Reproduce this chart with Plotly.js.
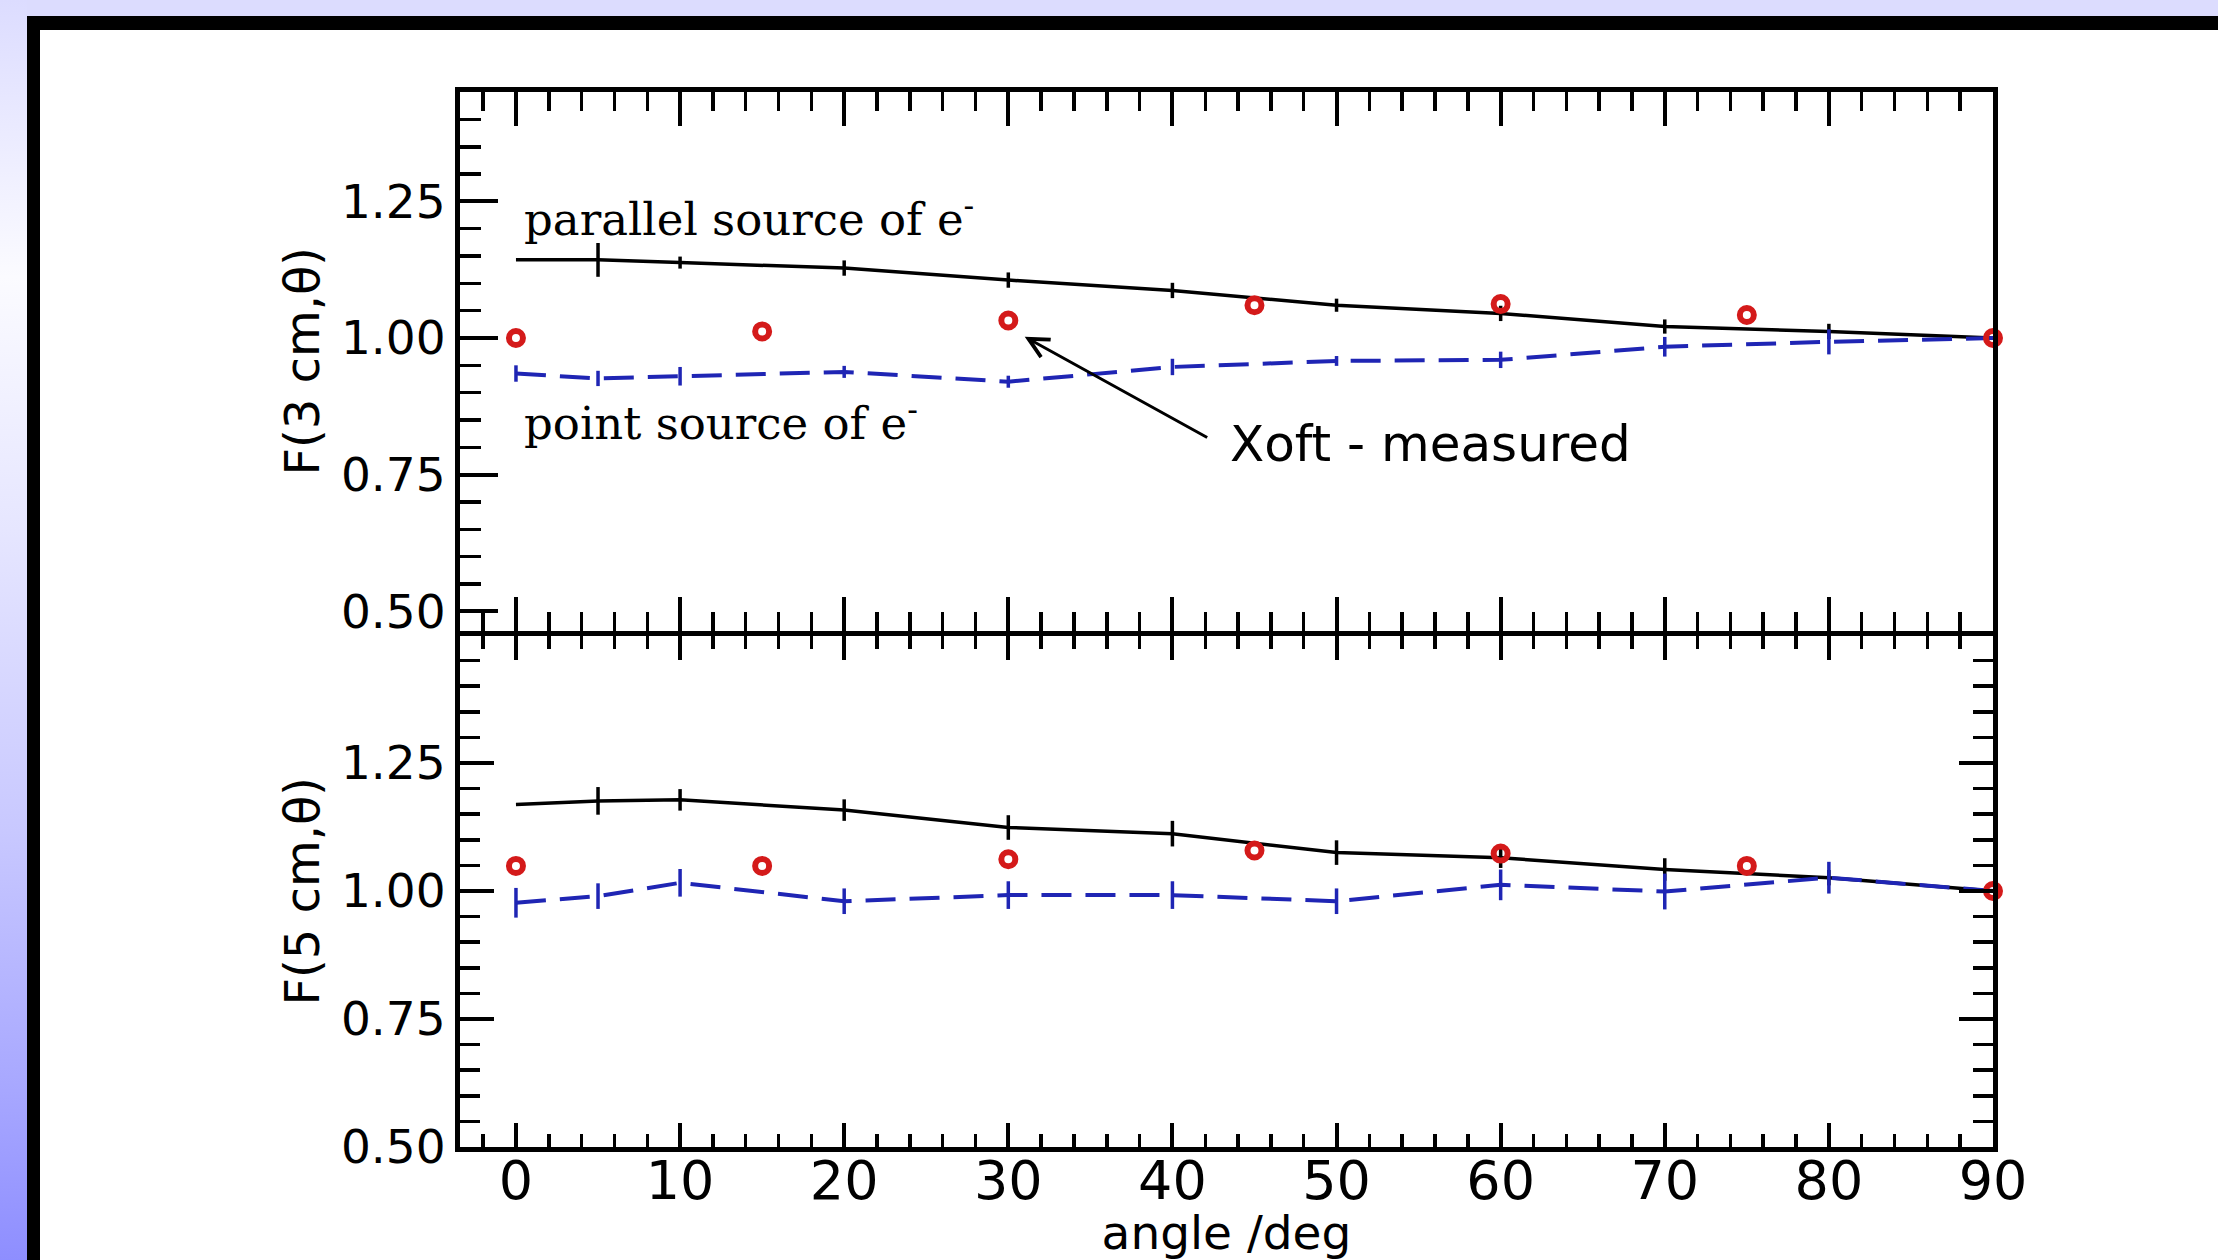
<!DOCTYPE html>
<html><head><meta charset="utf-8">
<script src="https://cdn.plot.ly/plotly-3.0.1.min.js"></script>
<style>
html,body{margin:0;padding:0;width:2218px;height:1260px;overflow:hidden;background:#dcdcfe;}
#strip{position:absolute;left:0;top:0;width:27px;height:1260px;background:linear-gradient(to bottom,#dcdcff 0%,#fbfbff 22%,#e6e6ff 42%,#c8c8ff 66%,#a8a8ff 86%,#8e8eff 100%);}
#frame{position:absolute;left:27px;top:16px;right:0;bottom:0;background:#000;}
#inner{position:absolute;left:40px;top:30px;right:0;bottom:0;background:#fff;}
#chart{position:absolute;left:0;top:0;width:2218px;height:1260px;}
</style></head>
<body>
<div id="strip"></div><div id="frame"></div><div id="inner"></div>
<div id="chart"></div>
<script>
// ---- data ----
const angles = [0, 5, 10, 20, 30, 40, 50, 60, 70, 80, 90];
const measuredAngles = [0, 15, 30, 45, 60, 75, 90];

// top panel: F(3 cm, theta)
const parallel3    = [1.143, 1.143, 1.138, 1.128, 1.106, 1.087, 1.060, 1.045, 1.021, 1.012, 1.000];
const parallel3Err = [0, 0.031, 0.011, 0.014, 0.014, 0.014, 0.012, 0.014, 0.013, 0.014, 0];
const point3       = [0.935, 0.926, 0.930, 0.938, 0.920, 0.947, 0.958, 0.960, 0.984, 0.993, 1.000];
const point3Err    = [0.015, 0.014, 0.017, 0.011, 0.011, 0.015, 0.009, 0.015, 0.018, 0.023, 0];
const measured3    = [1.000, 1.012, 1.032, 1.060, 1.062, 1.042, 1.000];

// bottom panel: F(5 cm, theta)
const parallel5    = [1.169, 1.176, 1.178, 1.158, 1.124, 1.112, 1.075, 1.065, 1.042, 1.026, 1.000];
const parallel5Err = [0, 0.027, 0.021, 0.021, 0.024, 0.025, 0.024, 0.020, 0.022, 0.015, 0];
const point5       = [0.977, 0.990, 1.016, 0.980, 0.992, 0.992, 0.980, 1.012, 0.999, 1.026, 1.000];
const point5Err    = [0.029, 0.025, 0.027, 0.025, 0.027, 0.027, 0.025, 0.030, 0.035, 0.031, 0];
const measured5    = [1.049, 1.049, 1.062, 1.079, 1.073, 1.049, 1.000];

const xTickVals = [0, 10, 20, 30, 40, 50, 60, 70, 80, 90];
const xTickText = ['0', '10', '20', '30', '40', '50', '60', '70', '80', '90'];
const yTickVals = [0.5, 0.75, 1.0, 1.25];
const yTickText = ['0.50', '0.75', '1.00', '1.25'];

const labelParallel = 'parallel source of e<sup>-</sup>';
const labelPoint = 'point source of e<sup>-</sup>';
const labelMeasured = 'Xoft - measured';
const titleX = 'angle /deg';
const titleTop = 'F(3 cm,θ)';
const titleBottom = 'F(5 cm,θ)';

// ---- styles ----
const BLACK = '#000000';
const BLUE = '#1f25b4';
const RED = '#d41a1a';

function solidTrace(y, err, xa, ya) {
  return {x: angles, y: y, xaxis: xa, yaxis: ya, mode: 'lines', type: 'scatter',
    line: {color: BLACK, width: 3.5}, cliponaxis: false,
    error_y: {type: 'data', array: err, visible: true, color: BLACK, thickness: 3.5, width: 0}};
}
function dashTrace(y, err, xa, ya) {
  return {x: angles, y: y, xaxis: xa, yaxis: ya, mode: 'lines', type: 'scatter',
    line: {color: BLUE, width: 4, dash: '30px,14px'}, cliponaxis: false,
    error_y: {type: 'data', array: err, visible: true, color: BLUE, thickness: 3.5, width: 0}};
}
function markTrace(y, xa, ya) {
  return {x: measuredAngles, y: y, xaxis: xa, yaxis: ya, mode: 'markers', type: 'scatter',
    cliponaxis: false,
    marker: {symbol: 'circle-open', size: 14, color: RED, line: {color: RED, width: 6}}};
}

const data = [
  solidTrace(parallel3, parallel3Err, 'x2', 'y2'),
  dashTrace(point3, point3Err, 'x2', 'y2'),
  markTrace(measured3, 'x2', 'y2'),
  solidTrace(parallel5, parallel5Err, 'x', 'y'),
  dashTrace(point5, point5Err, 'x', 'y'),
  markTrace(measured5, 'x', 'y')
];

const tickFontX = {family: 'DejaVu Sans', size: 54, color: BLACK};
const tickFontY = {family: 'DejaVu Sans', size: 47, color: BLACK};
const titleFont = {family: 'DejaVu Sans', size: 48, color: BLACK};

function xAxis(anchor, len, minorLen, showLabels) {
  return {
    anchor: anchor, domain: [0, 1], range: [-3.41, 90],
    tickmode: 'array', tickvals: xTickVals, ticktext: xTickText,
    showticklabels: showLabels, tickfont: tickFontX,
    ticks: 'inside', ticklen: len, tickwidth: 4, tickcolor: BLACK,
    minor: {ticks: 'inside', tickmode: 'linear', tick0: 0, dtick: 2, ticklen: minorLen, tickwidth: 3.5, tickcolor: BLACK, showgrid: false},
    showline: true, linewidth: 5, linecolor: BLACK, mirror: 'ticks',
    showgrid: false, zeroline: false
  };
}
function yAxis(anchor, domain, range, len, minorLen, mirror, title) {
  return {
    anchor: anchor, domain: domain, range: range,
    tickmode: 'array', tickvals: yTickVals, ticktext: yTickText, tickfont: tickFontY,
    ticks: 'inside', ticklen: len, tickwidth: 4, tickcolor: BLACK,
    minor: {ticks: 'inside', tickmode: 'linear', tick0: 0.5, dtick: 0.05, ticklen: minorLen, tickwidth: 3.5, tickcolor: BLACK, showgrid: false},
    showline: true, linewidth: 5, linecolor: BLACK, mirror: mirror,
    showgrid: false, zeroline: false,
    title: {text: title, font: titleFont, standoff: 8}
  };
}

const xa = xAxis('y', 24, 13, true);
xa.ticklabelstandoff = -18;
xa.title = {text: titleX, font: {family: 'DejaVu Sans', size: 47, color: BLACK}, standoff: 22};
const xa2 = xAxis('y2', 34, 19, false);
xa2.matches = 'x';

const layout = {
  width: 2218, height: 1260,
  margin: {l: 460, r: 225, t: 92, b: 113, pad: 0},
  paper_bgcolor: 'rgba(0,0,0,0)', plot_bgcolor: 'rgba(0,0,0,0)',
  font: {family: 'DejaVu Sans', color: BLACK},
  showlegend: false,
  xaxis: xa,
  xaxis2: xa2,
  yaxis: yAxis('x', [0, 0.48483], [0.5, 1.499], 34, 20, 'ticks', titleBottom),
  yaxis2: yAxis('x2', [0.48957, 1], [0.4647, 1.4502], 38, 21, true, titleTop),
  annotations: [
    {xref: 'x2', yref: 'y2', x: 0.37, y: 1.164, xanchor: 'left', yanchor: 'bottom',
     text: labelParallel, showarrow: false, font: {family: 'DejaVu Serif', size: 45, color: BLACK}},
    {xref: 'x2', yref: 'y2', x: 0.37, y: 0.792, xanchor: 'left', yanchor: 'bottom',
     text: labelPoint, showarrow: false, font: {family: 'DejaVu Serif', size: 45, color: BLACK}},
    {xref: 'x2', yref: 'y2', x: 43.39, y: 0.7496, xanchor: 'left', yanchor: 'bottom',
     text: labelMeasured, showarrow: false, font: {family: 'DejaVu Sans', size: 50, color: BLACK}},
    {xref: 'x2', yref: 'y2', axref: 'x2', ayref: 'y2', x: 31.0, y: 1.0024, ax: 42.21, ay: 0.8164,
     text: '', showarrow: true, arrowhead: 5, arrowsize: 1.3, arrowwidth: 3, arrowcolor: BLACK}
  ]
};

Plotly.newPlot('chart', data, layout, {displayModeBar: false, staticPlot: true});
</script>
</body></html>
